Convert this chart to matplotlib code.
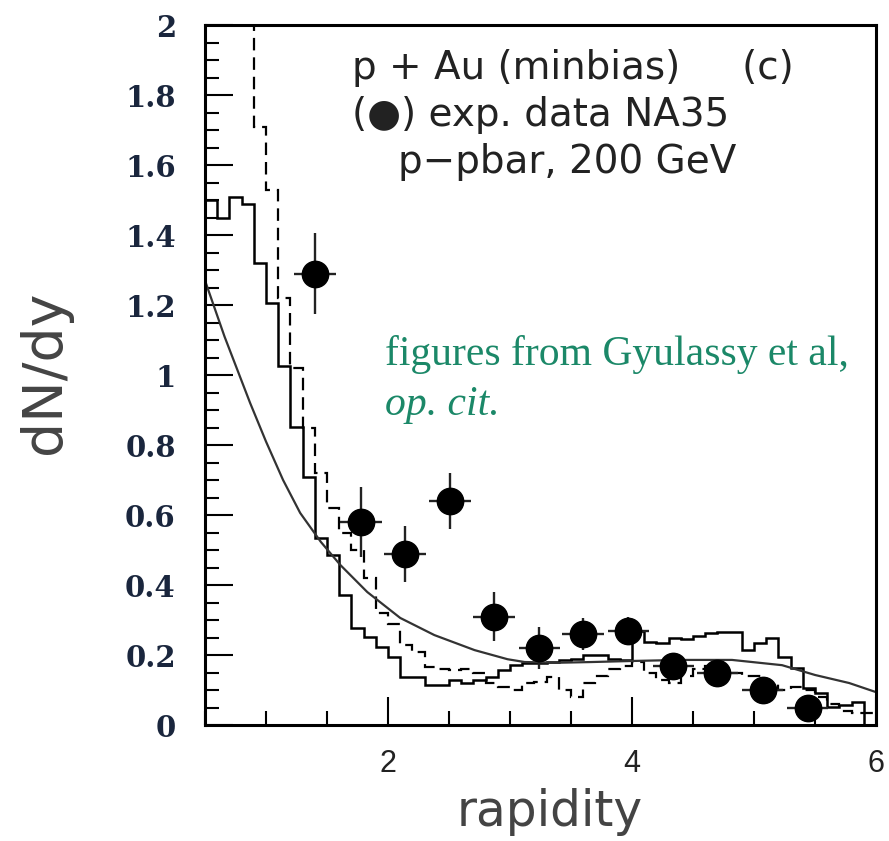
import numpy as np
import matplotlib
matplotlib.use("Agg")
import matplotlib.pyplot as plt
from matplotlib.ticker import MultipleLocator, FuncFormatter

plt.rcParams['lines.scale_dashes'] = False

# histogram bins (rapidity), width 0.1 from 0.5 to 6.0
edges = np.linspace(0.5, 6.0, 56)

# solid histogram
solid_hist = [1.50, 1.45, 1.51, 1.49, 1.32,
              1.205, 1.026, 0.851, 0.709, 0.534, 0.486, 0.371, 0.277, 0.251, 0.223,
              0.194, 0.137, 0.137, 0.114, 0.114, 0.129, 0.12, 0.129, 0.137, 0.157,
              0.171, 0.177, 0.177, 0.18, 0.186, 0.19, 0.20, 0.20, 0.19, 0.186,
              0.27, 0.237, 0.234, 0.249, 0.245, 0.254, 0.263, 0.266, 0.266, 0.214,
              0.234, 0.249, 0.195, 0.162, 0.105, 0.091, 0.052, 0.057, 0.066, 0.0]

# dashed histogram (first bins go off the top of the frame)
dashed_hist = [2.5, 2.4, 2.3, 2.2, 1.71,
               1.53, 1.22, 1.02, 0.85, 0.72, 0.62, 0.55, 0.50, 0.42, 0.32,
               0.29, 0.23, 0.21, 0.165, 0.16, 0.157, 0.16, 0.15, 0.12, 0.11,
               0.10, 0.12, 0.123, 0.137, 0.10, 0.08, 0.12, 0.14, 0.16, 0.17,
               0.18, 0.15, 0.13, 0.12, 0.14, 0.16, 0.17, 0.16, 0.15, 0.14,
               0.14, 0.12, 0.10, 0.11, 0.10, 0.08, 0.06, 0.04, 0.034, 0.034]

# smooth model curve
curve_x = [0.5, 0.66, 0.87, 1.0, 1.14, 1.28, 1.45, 1.61, 1.83, 2.1, 2.38, 2.71,
           2.98, 3.12, 3.4, 3.67, 4.0, 4.4, 4.82, 5.23, 5.5, 5.78, 6.0]
curve_y = [1.27, 1.11, 0.92, 0.81, 0.70, 0.606, 0.523, 0.457, 0.38, 0.306, 0.257, 0.214,
           0.188, 0.18, 0.178, 0.18, 0.183, 0.186, 0.186, 0.171, 0.143, 0.12, 0.094]

# NA35 data
data_x = [1.40, 1.78, 2.14, 2.51, 2.87, 3.24, 3.60, 3.97, 4.34, 4.70, 5.07, 5.44]
data_y = [1.29, 0.58, 0.49, 0.64, 0.31, 0.22, 0.26, 0.27, 0.17, 0.15, 0.10, 0.05]
data_yerr = [0.115, 0.10, 0.08, 0.08, 0.07, 0.06, 0.047, 0.04, 0.03, 0.03, 0.03, 0.03]
data_xerr = [0.17] * 12

fig = plt.figure(figsize=(8.89, 8.41), dpi=100)
ax = fig.add_axes([0.2306, 0.1379, 0.7548, 0.8323])

ax.stairs(solid_hist, edges, baseline=None, color='black', linewidth=1.8)
ax.stairs(dashed_hist, edges, baseline=None, color='black', linewidth=1.6,
          linestyle=(0, (9, 5)))
ax.plot(curve_x, curve_y, color='#333333', linewidth=1.6)
ax.errorbar(data_x, data_y, yerr=data_yerr, xerr=data_xerr, fmt='o', color='black',
            ms=19, elinewidth=1.7, ecolor='#222222', capsize=0)

ax.set_xlim(0.5, 6.0)
ax.set_ylim(0, 2)

ax.xaxis.set_major_locator(MultipleLocator(2))
ax.xaxis.set_minor_locator(MultipleLocator(0.5))
ax.yaxis.set_major_locator(MultipleLocator(0.2))
ax.yaxis.set_minor_locator(MultipleLocator(0.05))
ax.yaxis.set_major_formatter(FuncFormatter(lambda v, p: '%g' % round(v, 2)))

ax.tick_params(which='both', direction='in', top=False, right=False, width=1.5)
ax.tick_params(which='major', length=20)
ax.tick_params(which='minor', length=10)
ax.tick_params(axis='y', pad=21)
ax.tick_params(axis='x', pad=17)
for s in ax.spines.values():
    s.set_linewidth(2.2)

for lab in ax.get_yticklabels():
    lab.set_fontfamily('DejaVu Serif')
    lab.set_fontweight('bold')
    lab.set_fontsize(21)
    lab.set_color('#1a263d')
for lab in ax.get_xticklabels():
    lab.set_fontfamily(['Liberation Sans Narrow', 'Liberation Sans'])
    lab.set_fontsize(22)
    lab.set_color('#222222')

fig.text(45 / 889, 1 - 372 / 841, 'dN/dy', rotation=90, ha='center', va='center',
         fontsize=40, color='#444444', family='DejaVu Sans')
fig.text(550 / 889, 1 - 826 / 841, 'rapidity', ha='center', va='baseline',
         fontsize=35, color='#444444', family='DejaVu Sans')

ax.text(352 / 889, 1 - 68 / 841, 'p + Au (minbias)     (c)', transform=fig.transFigure,
        ha='left', va='center', fontsize=28, color='#222222')
ax.text(352 / 889, 1 - 115 / 841, '(\u25cf) exp. data NA35', transform=fig.transFigure,
        ha='left', va='center', fontsize=28, color='#222222')
ax.text(398 / 889, 1 - 162 / 841, 'p\u2212pbar, 200 GeV', transform=fig.transFigure,
        ha='left', va='center', fontsize=28, color='#222222')

green = '#1b8868'
fig.text(385 / 889, 1 - 355 / 841, 'figures from Gyulassy et al,', ha='left', va='center',
         fontsize=30, color=green, family='Liberation Serif')
fig.text(385 / 889, 1 - 405 / 841, 'op. cit.', ha='left', va='center',
         fontsize=30, color=green, family='Liberation Serif', style='italic')

fig.savefig('out.png', dpi=100)
